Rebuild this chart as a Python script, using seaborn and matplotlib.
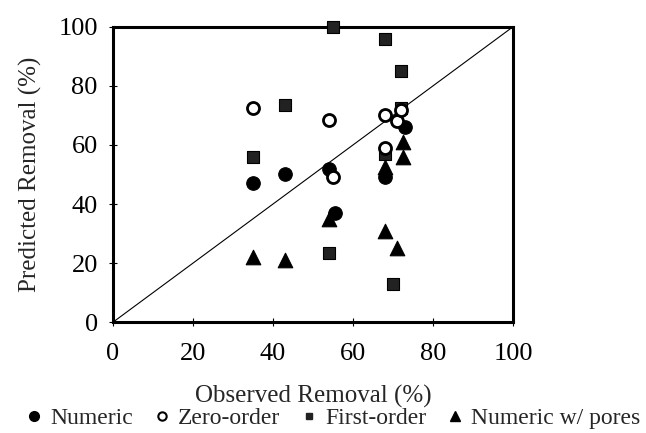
import matplotlib
matplotlib.use("Agg")
import matplotlib.pyplot as plt
import seaborn as sns
import pandas as pd
from matplotlib.lines import Line2D

# Data
numeric_x = [35, 43, 54, 55.5, 68, 73]
numeric_y = [47, 50, 52, 37, 49, 66]

zero_x = [35, 54, 55, 68, 71, 68, 72]
zero_y = [72.5, 68.5, 49, 70, 68, 59, 72]

first_x = [35, 43, 54, 55, 68, 72, 72, 68, 70]
first_y = [56, 73.5, 23.5, 100, 96, 85, 72.5, 57, 13]

pores_x = [35, 43, 54, 68, 71, 68, 72.5, 72.5]
pores_y = [22, 21, 35, 31, 25, 52.5, 61, 56]

series_names = ["Numeric", "Zero-order", "First-order", "Numeric w/ pores"]
ticks = [0, 20, 40, 60, 80, 100]

sns.set_style("white")
plt.rcParams["font.family"] = ["Liberation Serif", "DejaVu Serif"]

fig = plt.figure(figsize=(6.46, 4.33), dpi=100)
ax = fig.add_axes([0.175, 0.256, 0.619, 0.682])

ax.plot([0, 100], [0, 100], color="black", lw=0.8, zorder=1)

df_first = pd.DataFrame({"x": first_x, "y": first_y})
df_zero = pd.DataFrame({"x": zero_x, "y": zero_y})
df_num = pd.DataFrame({"x": numeric_x, "y": numeric_y})
df_pores = pd.DataFrame({"x": pores_x, "y": pores_y})

sns.scatterplot(data=df_first, x="x", y="y", ax=ax, marker="s", s=75,
                color="#222222", edgecolor="black", linewidth=0.8, zorder=3,
                clip_on=False)
sns.scatterplot(data=df_num, x="x", y="y", ax=ax, marker="o", s=95,
                color="black", edgecolor="black", linewidth=0.8, zorder=4)
sns.scatterplot(data=df_zero, x="x", y="y", ax=ax, marker="o", s=75,
                facecolor="white", edgecolor="black", linewidth=2.0, zorder=5)
sns.scatterplot(data=df_pores, x="x", y="y", ax=ax, marker="^", s=110,
                color="black", edgecolor="black", linewidth=0.8, zorder=6)

ax.set_xlim(0, 100)
ax.set_ylim(0, 100)
ax.set_xticks(ticks)
ax.set_yticks(ticks)
ax.set_xticklabels([str(t) for t in ticks])
ax.set_yticklabels([str(t) for t in ticks])
ax.tick_params(axis="both", direction="inout", length=6, width=0.8,
               labelsize=19, colors="black", bottom=True, left=True)
ax.tick_params(axis="x", pad=12)
ax.tick_params(axis="y", pad=8)
for sp in ax.spines.values():
    sp.set_visible(True)
    sp.set_color("black")
    sp.set_linewidth(2.2)

ax.set_xlabel("Observed Removal (%)", fontsize=18, labelpad=14)
ax.set_ylabel("Predicted Removal (%)", fontsize=18, labelpad=12)

handles = [
    Line2D([], [], marker="o", ls="none", color="black", markersize=7),
    Line2D([], [], marker="o", ls="none", markerfacecolor="white",
           markeredgecolor="black", markeredgewidth=1.5, markersize=6),
    Line2D([], [], marker="s", ls="none", color="#222222", markersize=5),
    Line2D([], [], marker="^", ls="none", color="black", markersize=7),
]
fig.legend(handles, series_names, loc="lower center", ncol=4, frameon=False,
           fontsize=17, handletextpad=0.3, columnspacing=0.8,
           handlelength=0.8, bbox_to_anchor=(0.515, -0.04))

fig.savefig("out.png", dpi=100)
